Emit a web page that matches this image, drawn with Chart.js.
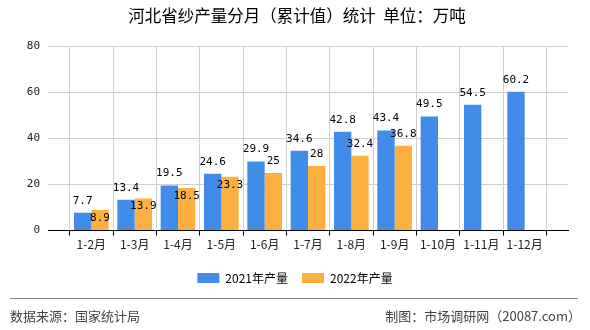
<!DOCTYPE html>
<html>
<head>
<meta charset="utf-8">
<script src="https://cdn.jsdelivr.net/npm/chart.js@4/dist/chart.umd.min.js"></script>
<style>
  html, body { margin: 0; padding: 0; background: #fff; }
  #wrap { width: 590px; height: 330px; }
</style>
</head>
<body>
<div id="wrap"><canvas id="chart" width="590" height="330"></canvas></div>
<script>
const categories = ["1-2月", "1-3月", "1-4月", "1-5月", "1-6月", "1-7月", "1-8月", "1-9月", "1-10月", "1-11月", "1-12月"];
const output2021 = [7.7, 13.4, 19.5, 24.6, 29.9, 34.6, 42.8, 43.4, 49.5, 54.5, 60.2];
const output2022 = [8.9, 13.9, 18.5, 23.3, 25, 28, 32.4, 36.8, null, null, null];
const seriesNames = ["2021年产量", "2022年产量"];
const yMax = 80;
const yStep = 20;

const BLUE = "#418be9";
const ORANGE = "#fbb040";
const CJK = "'Noto Sans CJK SC', 'Noto Sans', sans-serif";
const TITLE = "河北省纱产量分月（累计值）统计  单位：万吨";

// empty slot at each end so the categories sit on the inner grid lines
const labels = ["", ...categories, ""];
const pad = arr => [null, ...arr, null];

const valueLabels = {
  id: "valueLabels",
  afterDatasetsDraw(chart) {
    const ctx = chart.ctx;
    const m0 = chart.getDatasetMeta(0);
    const m1 = chart.getDatasetMeta(1);
    ctx.save();
    ctx.font = "11px 'DejaVu Sans Mono', monospace";
    ctx.fillStyle = "#000";
    ctx.textAlign = "center";
    ctx.textBaseline = "middle";
    const blueY = [];
    m0.data.forEach((bar, i) => {
      const v = chart.data.datasets[0].data[i];
      if (v == null) return;
      blueY[i] = bar.y - 12;
      ctx.fillText(String(v), bar.x, blueY[i]);
    });
    m1.data.forEach((bar, i) => {
      const v = chart.data.datasets[1].data[i];
      if (v == null) return;
      let y = bar.y - 12;
      if (blueY[i] != null && Math.abs(y - blueY[i]) < 10) y = bar.y + 8;
      ctx.fillText(String(v), bar.x, y);
    });
    ctx.restore();
  }
};

// title + footer are drawn on the page, not inside the chart box
const frame = {
  id: "frame",
  afterDraw(chart) {
    const ctx = chart.ctx;
    ctx.save();
    ctx.fillStyle = "#000";
    ctx.font = "16.5px " + CJK;
    ctx.textAlign = "center";
    ctx.textBaseline = "middle";
    ctx.fillText(TITLE, 297, 16);

    ctx.strokeStyle = "#888";
    ctx.lineWidth = 1;
    ctx.beginPath();
    ctx.moveTo(10, 298.5);
    ctx.lineTo(578, 298.5);
    ctx.stroke();
    ctx.fillStyle = "#444";
    ctx.font = "13px " + CJK;
    ctx.textAlign = "left";
    ctx.fillText("数据来源：国家统计局", 10, 316);
    ctx.textAlign = "right";
    ctx.fillText("制图：市场调研网（20087.com）", 581, 316);
    ctx.restore();
  }
};

new Chart(document.getElementById("chart").getContext("2d"), {
  type: "bar",
  data: {
    labels: labels,
    datasets: [
      { label: seriesNames[0], data: pad(output2021), backgroundColor: BLUE, borderWidth: 0 },
      { label: seriesNames[1], data: pad(output2022), backgroundColor: ORANGE, borderWidth: 0 }
    ]
  },
  options: {
    responsive: false,
    animation: false,
    layout: { padding: { left: 22, right: 22, top: 46, bottom: 36 } },
    datasets: { bar: { categoryPercentage: 0.8, barPercentage: 1.0 } },
    scales: {
      x: {
        offset: false,
        afterFit(scale) { scale.height += 4; },
        grid: { color: "#d0d0d0", tickColor: "#000", tickLength: 5 },
        border: { color: "#000" },
        ticks: { color: "#222", font: { family: CJK, size: 12 }, maxRotation: 0, autoSkip: false, padding: 2 }
      },
      y: {
        min: 0,
        max: yMax,
        afterFit(scale) { scale.width = 26; },
        grid: { color: "#d0d0d0", drawTicks: false },
        border: { display: false },
        ticks: { stepSize: yStep, color: "#222", font: { family: "'DejaVu Sans Mono', monospace", size: 11 }, padding: 8 }
      }
    },
    plugins: {
      title: { display: false },
      legend: {
        position: "bottom",
        labels: {
          boxWidth: 22,
          boxHeight: 10,
          color: "#000",
          font: { family: CJK, size: 12 },
          padding: 14
        }
      },
      tooltip: { enabled: false }
    }
  },
  plugins: [valueLabels, frame]
});
</script>
</body>
</html>
